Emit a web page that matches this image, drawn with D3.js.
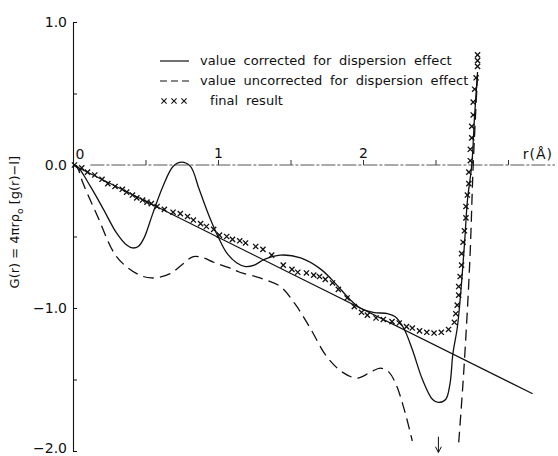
<!DOCTYPE html>
<html>
<head>
<meta charset="utf-8">
<script src="https://cdn.jsdelivr.net/npm/d3@7"></script>
<style>
  html, body { margin: 0; padding: 0; background: #fff; }
  svg { display: block; }
  text { font-family: "DejaVu Sans", "Liberation Sans", sans-serif; fill: #111; }
</style>
</head>
<body>
<svg id="chart" width="558" height="456"></svg>
<script>
// G(r) curves: [r (Å), G(r)]
const correctedCurve = [
  [0,0],[0.03,-0.01],[0.12,-0.15],[0.21,-0.31],[0.30,-0.475],[0.37,-0.56],[0.41,-0.58],
  [0.45,-0.57],[0.49,-0.51],[0.55,-0.34],[0.62,-0.15],[0.69,-0.01],[0.75,0.02],[0.81,-0.01],
  [0.87,-0.17],[0.94,-0.36],[1.00,-0.50],[1.06,-0.615],[1.13,-0.685],[1.19,-0.71],[1.25,-0.70],
  [1.32,-0.66],[1.43,-0.63],[1.57,-0.65],[1.71,-0.73],[1.82,-0.84],[1.91,-0.94],[1.98,-1.00],
  [2.07,-1.03],[2.17,-1.04],[2.22,-1.06],[2.28,-1.14],[2.34,-1.29],[2.41,-1.50],[2.48,-1.64],
  [2.52,-1.66],[2.57,-1.64],[2.60,-1.53],[2.62,-1.32],[2.65,-1.14],[2.67,-0.94],[2.70,-0.55],
  [2.72,-0.25],[2.75,0.0],[2.77,0.35],[2.79,0.65]
];
const uncorrectedLeft = [
  [0,0],[0.03,-0.02],[0.07,-0.13],[0.17,-0.36],[0.30,-0.64],[0.44,-0.76],[0.54,-0.79],
  [0.67,-0.76],[0.76,-0.69],[0.83,-0.64],[0.90,-0.65],[0.97,-0.68],[1.08,-0.72],[1.15,-0.75],
  [1.29,-0.79],[1.43,-0.85],[1.53,-0.97],[1.63,-1.13],[1.75,-1.34],[1.86,-1.45],[1.96,-1.49],
  [2.05,-1.45],[2.12,-1.42],[2.18,-1.45],[2.23,-1.54],[2.29,-1.73],[2.34,-1.93]
];
const uncorrectedRight = [
  [2.66,-1.94],[2.69,-1.52],[2.72,-1.01],[2.74,-0.59],[2.76,0.0],[2.79,0.63]
];
const finalResult = [
  [0.01,0],[0.06,-0.02],[0.10,-0.05],[0.15,-0.07],[0.20,-0.10],[0.24,-0.13],[0.29,-0.15],
  [0.34,-0.17],[0.37,-0.19],[0.41,-0.21],[0.44,-0.23],[0.48,-0.245],[0.51,-0.26],[0.54,-0.27],
  [0.58,-0.29],[0.63,-0.31],[0.69,-0.33],[0.74,-0.34],[0.79,-0.36],[0.83,-0.385],[0.88,-0.41],
  [0.92,-0.43],[0.97,-0.45],[1.01,-0.49],[1.06,-0.50],[1.10,-0.52],[1.15,-0.53],[1.19,-0.545],
  [1.26,-0.57],[1.31,-0.59],[1.37,-0.63],[1.45,-0.70],[1.51,-0.73],[1.55,-0.75],[1.61,-0.755],
  [1.66,-0.77],[1.70,-0.78],[1.74,-0.80],[1.79,-0.825],[1.83,-0.87],[1.89,-0.93],[1.94,-0.99],
  [1.99,-1.03],[2.03,-1.05],[2.09,-1.07],[2.14,-1.08],[2.20,-1.095],[2.25,-1.105],[2.30,-1.13],
  [2.34,-1.14],[2.39,-1.16],[2.44,-1.17],[2.49,-1.175],[2.54,-1.17],[2.59,-1.15],[2.63,-1.10],
  [2.64,-1.04],[2.65,-0.98],[2.66,-0.91],[2.66,-0.85],[2.67,-0.78],[2.68,-0.70],[2.68,-0.62],
  [2.69,-0.54],[2.70,-0.46],[2.71,-0.37],[2.71,-0.29],[2.72,-0.21],[2.73,-0.13],[2.73,-0.05],
  [2.74,0.03],[2.74,0.11],[2.75,0.19],[2.75,0.27],[2.76,0.35],[2.76,0.44],[2.77,0.53],
  [2.78,0.61],[2.79,0.69],[2.79,0.73],[2.79,0.77]
];
// Average density line -4πrρ0
const densityLine = [[0,0],[3.17,-1.60]];

const yTicks = [1, 0.5, 0, -0.5, -1, -1.5, -2];
const yTickLabels = {"1": "1.0", "0": "0.0", "-1": "\u22121.0", "-2": "\u22122.0"};
const xTicks = [0.5, 1, 1.5, 2, 2.5, 3];
const xTickLabels = {"1": "1", "2": "2"};
const legendItems = [
  {label: "value corrected for dispersion effect", type: "solid"},
  {label: "value uncorrected for dispersion effect", type: "dashed"},
  {label: "final result", type: "cross"}
];

const svg = d3.select("#chart");
const x = d3.scaleLinear().domain([0, 3]).range([73, 508]);
const y = d3.scaleLinear().domain([-2, 1]).range([451, 22]);

// y axis: ticks point into the plot, labels on the left
const yAxis = d3.axisLeft(y)
  .tickValues(yTicks)
  .tickSize(-4)
  .tickPadding(6)
  .tickFormat(d => yTickLabels[String(d)] || "");
const gy = svg.append("g").attr("transform", `translate(${x(0)},0)`).call(yAxis);
gy.select(".domain").attr("stroke", "#111").attr("stroke-width", 1.1);
gy.selectAll(".tick line").attr("stroke", "#111");
gy.selectAll(".tick text").style("font-size", "14px").attr("fill", "#111")
  .attr("y", d => d === -2 ? -3 : 0);

// x axis along G = 0, drawn as a broken line, ticks pointing up
const gx = svg.append("g").attr("transform", `translate(0,${y(0)})`)
  .call(d3.axisTop(x).tickValues(xTicks).tickSize(5).tickPadding(2)
    .tickFormat(d => xTickLabels[String(d)] || ""));
gx.select(".domain").remove();
gx.selectAll(".tick line").attr("stroke", "#333");
gx.selectAll(".tick text").style("font-size", "14px").attr("fill", "#111");
svg.append("line")
  .attr("x1", x(0.12)).attr("x2", 555)
  .attr("y1", y(0)).attr("y2", y(0))
  .attr("stroke", "#555").attr("stroke-width", 1)
  .attr("stroke-dasharray", "14 2 3 2");
svg.append("text").attr("x", x(0) + 7).attr("y", y(0) - 6)
  .attr("text-anchor", "middle").style("font-size", "14px").text("0");
svg.append("text").attr("x", 553).attr("y", y(0) - 6)
  .attr("text-anchor", "end").style("font-size", "14px").style("letter-spacing", "1px")
  .text("r(\u00C5)");

// y axis title
const yTitle = svg.append("text")
  .attr("transform", `translate(19,${y(-0.4)}) rotate(-90)`)
  .attr("text-anchor", "middle")
  .style("font-size", "13px");
yTitle.append("tspan").text("G(r) = 4\u03C0r\u03C1");
yTitle.append("tspan").attr("dy", 4).style("font-size", "9px").text("o");
yTitle.append("tspan").attr("dy", -4).text(" [g(r)\u2212l]");

const line = d3.line().x(d => x(d[0])).y(d => y(d[1])).curve(d3.curveCatmullRom.alpha(0.5));
const straight = d3.line().x(d => x(d[0])).y(d => y(d[1]));

svg.append("path").datum(densityLine).attr("d", straight)
  .attr("fill", "none").attr("stroke", "#111").attr("stroke-width", 1.2);

svg.append("path").datum(correctedCurve).attr("d", line)
  .attr("fill", "none").attr("stroke", "#111").attr("stroke-width", 1.3);

[uncorrectedLeft, uncorrectedRight].forEach(seg => {
  svg.append("path").datum(seg).attr("d", line)
    .attr("fill", "none").attr("stroke", "#111").attr("stroke-width", 1.3)
    .attr("stroke-dasharray", "11 6");
});

// crosses
const cs = 2.6;
const crossPath = (cx, cy) => `M${cx - cs},${cy - cs}L${cx + cs},${cy + cs}M${cx + cs},${cy - cs}L${cx - cs},${cy + cs}`;
svg.append("g").selectAll("path").data(finalResult).join("path")
  .attr("d", d => crossPath(x(d[0]), y(d[1])))
  .attr("stroke", "#111").attr("stroke-width", 1.3).attr("fill", "none");

// arrow marking the minimum that runs off the scale
const arrowR = 2.52;
svg.append("path")
  .attr("d", `M${x(arrowR)},${y(-1.9)}V${y(-2.01)}M${x(arrowR) - 3},${y(-1.97)}L${x(arrowR)},${y(-2.01)}L${x(arrowR) + 3},${y(-1.97)}`)
  .attr("fill", "none").attr("stroke", "#111").attr("stroke-width", 1);

// legend
const legend = svg.append("g");
legendItems.forEach((item, i) => {
  const ly = 61 + i * 20;
  if (item.type === "solid") {
    legend.append("line").attr("x1", 160).attr("x2", 189).attr("y1", ly).attr("y2", ly)
      .attr("stroke", "#111").attr("stroke-width", 1.2);
  } else if (item.type === "dashed") {
    legend.append("line").attr("x1", 160).attr("x2", 189).attr("y1", ly).attr("y2", ly)
      .attr("stroke", "#111").attr("stroke-width", 1.2).attr("stroke-dasharray", "7 4");
  } else {
    [164, 174, 184].forEach(cx => {
      legend.append("path").attr("d", crossPath(cx, ly)).attr("stroke", "#111")
        .attr("stroke-width", 1.1).attr("fill", "none");
    });
  }
  legend.append("text").attr("x", item.type === "cross" ? 210 : 200).attr("y", ly + 4)
    .style("font-size", "13px").style("word-spacing", "3.5px").style("letter-spacing", "0.05px")
    .text(item.label);
});
</script>
</body>
</html>
